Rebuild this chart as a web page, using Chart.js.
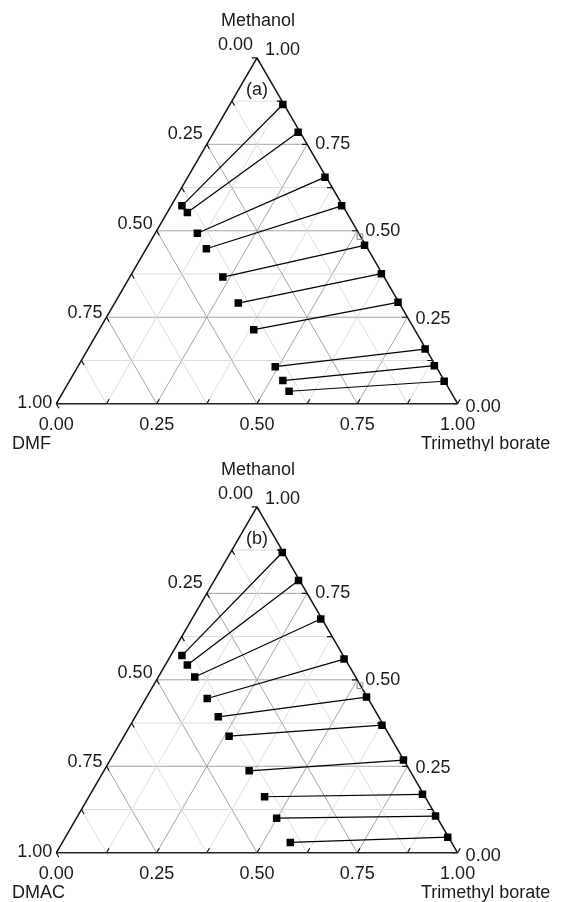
<!DOCTYPE html>
<html>
<head>
<meta charset="utf-8">
<script src="https://cdn.jsdelivr.net/npm/chart.js@4.4.1/dist/chart.umd.min.js"></script>
<style>
  html, body { margin: 0; padding: 0; background: #fff; }
  .panel { position: absolute; left: 0; width: 563px; height: 451px; }
</style>
</head>
<body>
<div class="panel" style="top:0"><canvas id="chartA" width="563" height="451"></canvas></div>
<div class="panel" style="top:451px"><canvas id="chartB" width="563" height="451"></canvas></div>
<script>
// axis ticks shared by both ternary diagrams
const tickValues = [0, 0.25, 0.5, 0.75, 1];
const tickLabels = ['0.00', '0.25', '0.50', '0.75', '1.00'];
const gridSteps = [0.125, 0.25, 0.375, 0.5, 0.625, 0.75, 0.875];
const minorTicks = [0, 0.125, 0.25, 0.375, 0.5, 0.625, 0.75, 0.875, 1];

// (a) DMF - Methanol - Trimethyl borate tie lines (mole fractions)
const methanolA_left = [0.572, 0.553, 0.493, 0.448, 0.366, 0.291, 0.214, 0.107, 0.067, 0.036];
const tmbA_left      = [0.027, 0.050, 0.105, 0.150, 0.232, 0.308, 0.385, 0.492, 0.531, 0.562];
const methanolA_right = [0.865, 0.785, 0.655, 0.572, 0.458, 0.376, 0.293, 0.158, 0.110, 0.065];
const tmbA_right      = [0.132, 0.210, 0.342, 0.425, 0.539, 0.622, 0.705, 0.840, 0.887, 0.934];

// (b) DMAC - Methanol - Trimethyl borate tie lines
const methanolB_left = [0.570, 0.543, 0.508, 0.446, 0.393, 0.337, 0.237, 0.162, 0.100, 0.030];
const tmbB_left      = [0.028, 0.055, 0.091, 0.153, 0.207, 0.262, 0.362, 0.438, 0.499, 0.568];
const methanolB_right = [0.868, 0.787, 0.676, 0.560, 0.450, 0.369, 0.268, 0.169, 0.106, 0.045];
const tmbB_right      = [0.129, 0.210, 0.321, 0.437, 0.548, 0.627, 0.731, 0.828, 0.892, 0.953];

// the small open square sitting on the right axis near 0.50
const markerMethanol = 0.483;
const markerTmb = 0.515;

const SQ3 = Math.sqrt(3) / 2;
const FONT = '18px "Liberation Sans", Arial, sans-serif';
const TEXT = '#1a1a1a';

// ternary (tmb, methanol) -> cartesian, side length 1
function tern(tmb, meoh) {
    return { x: tmb + meoh / 2, y: meoh * SQ3 };
}

function seg(a, b, color, width, order) {
    return {
        type: 'scatter', showLine: true, data: [a, b],
        borderColor: color, borderWidth: width, pointRadius: 0,
        order: order
    };
}

function buildDatasets(mL, tL, mR, tR) {
    const ds = [];
    gridSteps.forEach(v => {
        const major = Math.abs(v / 0.25 - Math.round(v / 0.25)) < 1e-9;
        const c = major ? '#a4a4a4' : '#dcdcdc';
        ds.push(seg(tern(0, v), tern(1 - v, v), c, 1, 6));       // methanol constant
        ds.push(seg(tern(v, 0), tern(v, 1 - v), c, 1, 6));       // tmb constant
        ds.push(seg(tern(0, 1 - v), tern(1 - v, 0), c, 1, 6));   // amide constant
    });
    // triangle frame
    ds.push(seg(tern(0, 0), tern(1, 0), '#222', 1.5, 4));
    ds.push(seg(tern(0, 0), tern(0, 1), '#111', 1.5, 4));
    ds.push(seg(tern(1, 0), tern(0, 1), '#111', 1.5, 4));
    // ticks along grid directions
    const e = 0.013;
    minorTicks.forEach(v => {
        ds.push(seg(tern(0, 1 - v), tern(e, 1 - v - e), '#111', 1.2, 4)); // left axis
        ds.push(seg(tern(v, 0), tern(v, e), '#111', 1.2, 4));             // bottom axis
        ds.push(seg(tern(1 - v, v), tern(1 - v - e, v), '#111', 1.2, 4)); // right axis
    });
    // tie lines
    for (let i = 0; i < mL.length; i++) {
        ds.push({
            type: 'scatter', showLine: true,
            data: [tern(tL[i], mL[i]), tern(tR[i], mR[i])],
            borderColor: '#000', borderWidth: 1.2,
            pointStyle: 'rect', pointRadius: 5.3,
            pointBackgroundColor: '#000', pointBorderColor: '#000', pointBorderWidth: 0,
            order: 1
        });
    }
    ds.push({
        type: 'scatter', data: [tern(markerTmb, markerMethanol)],
        pointStyle: 'rect', pointRadius: 4, pointBorderWidth: 1,
        pointBorderColor: '#8a8a8a', pointBackgroundColor: 'rgba(0,0,0,0)',
        order: 2
    });
    return ds;
}

const labelPlugin = {
    id: 'ternLabels',
    afterDraw(chart, args, opts) {
        const ctx = chart.ctx;
        const sx = chart.scales.x, sy = chart.scales.y;
        const px = p => [sx.getPixelForValue(p.x), sy.getPixelForValue(p.y)];
        ctx.save();
        ctx.font = FONT;
        ctx.fillStyle = TEXT;
        ctx.textBaseline = 'middle';
        tickValues.forEach((v, i) => {
            // left axis: amide fraction, 0 at top
            let [x, y] = px(tern(0, 1 - v));
            ctx.textAlign = 'right';
            ctx.fillText(tickLabels[i], x - 4, y - 13 + 12 * v);
            // right axis: methanol fraction
            [x, y] = px(tern(1 - v, v));
            ctx.textAlign = 'left';
            ctx.fillText(tickLabels[i], x + 8, y + 3 - 5 * v - (v === 1 ? 6 : 0));
            // bottom axis: trimethyl borate fraction
            [x, y] = px(tern(v, 0));
            ctx.textAlign = 'center';
            ctx.fillText(tickLabels[i], x, y + 21);
        });
        const [ax, ay] = px(tern(0, 1));
        const [bx, by] = px(tern(0, 0));
        ctx.textAlign = 'center';
        ctx.fillText('Methanol', ax + 1, ay - 37);
        ctx.fillText(opts.tag, ax, ay + 32);
        ctx.textAlign = 'left';
        ctx.fillText(opts.amide, 12, by + 40);
        ctx.fillText('Trimethyl borate', 421, by + 40);
        ctx.restore();
    }
};

function makeTernary(id, oy, tag, amide, mL, tL, mR, tR) {
    const side = 409, ox = 52, w = 563, h = 451;
    return new Chart(document.getElementById(id), {
        type: 'scatter',
        data: { datasets: buildDatasets(mL, tL, mR, tR) },
        options: {
            responsive: false,
            animation: false,
            events: [],
            devicePixelRatio: 1,
            layout: { padding: 0 },
            scales: {
                x: { type: 'linear', display: false, min: -ox / side, max: (w - ox) / side },
                y: { type: 'linear', display: false, min: -(h - oy) / side, max: oy / side }
            },
            plugins: {
                legend: { display: false },
                tooltip: { enabled: false },
                ternLabels: { tag: tag, amide: amide }
            }
        },
        plugins: [labelPlugin]
    });
}

makeTernary('chartA', 408, '(a)', 'DMF', methanolA_left, tmbA_left, methanolA_right, tmbA_right);
makeTernary('chartB', 406, '(b)', 'DMAC', methanolB_left, tmbB_left, methanolB_right, tmbB_right);
</script>
</body>
</html>
